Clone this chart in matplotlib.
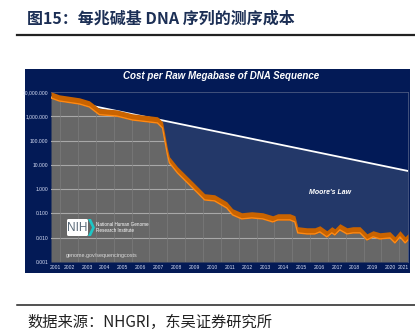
import numpy as np
import matplotlib
matplotlib.use("Agg")
from matplotlib import pyplot as plt
from matplotlib.patches import Rectangle, FancyBboxPatch, Polygon

# cost per raw megabase (USD), read from the lower edge of the orange band
years = [2001.48, 2001.94, 2003.07, 2003.63, 2004.19, 2005.15, 2006.04, 2007.00,
         2007.45, 2007.73, 2008.01, 2008.12, 2008.57, 2009.42, 2010.09, 2010.65,
         2011.33, 2011.66, 2012.17, 2012.73, 2013.35, 2013.91, 2014.19, 2014.87,
         2015.15, 2015.31, 2015.82, 2016.27, 2016.55, 2016.94, 2017.22, 2017.39,
         2017.67, 2018.07, 2018.40, 2018.80, 2019.19, 2019.53, 2019.92, 2020.48,
         2020.76, 2021.04, 2021.33, 2021.49]
cost = [5660, 4260, 3210, 2415, 1165, 1028, 705, 582,
        530, 330, 25.5, 12.0, 4.64, 1.12, 0.36, 0.327,
        0.168, 0.0867, 0.0594, 0.0653, 0.0594, 0.0446, 0.054, 0.054,
        0.0446, 0.0158, 0.0143, 0.0143, 0.0173, 0.0108, 0.0158, 0.0130,
        0.0210, 0.0143, 0.0158, 0.0158, 0.0081, 0.0108, 0.0089, 0.0098,
        0.0061, 0.0108, 0.0061, 0.0081]
moore_years = [2001.48, 2021.49]
moore_cost = [6000, 5.6]

ytick_vals = [10000, 1000, 100, 10, 1, 0.1, 0.01, 0.001]
ytick_labels = ["10,000.000", "1,000.000", "100.000", "10.000", "1.000",
                "0.100", "0.010", "0.001"]
year_labels = list(range(2001, 2022))

years = np.array(years)
cost = np.array(cost)

plt.rcParams["font.family"] = ["Liberation Sans", "DejaVu Sans"]
cjk = ["Noto Sans CJK SC", "DejaVu Sans"]

fig = plt.figure(figsize=(4.15, 3.34), dpi=100)
fig.patch.set_facecolor("white")

# heading and footer
fig.text(27 / 415, 1 - 19 / 334, "图15：每兆碱基 DNA 序列的测序成本", family=cjk,
         fontsize=11.5, fontweight="bold", color="#1c2f55", va="center", ha="left")
fig.add_artist(plt.Line2D([17 / 415, 1], [1 - 35 / 334] * 2, color="#222222", lw=1.6))
fig.add_artist(plt.Line2D([17 / 415, 1], [1 - 305 / 334] * 2, color="#222222", lw=1.1))
fig.text(27 / 415, 1 - 322 / 334, "数据来源：NHGRI，东吴证券研究所", family=cjk,
         fontsize=11, color="#222222", va="center", ha="left")

# navy panel
fig.add_artist(Rectangle((25 / 415, 1 - 273 / 334), 385 / 415, 204 / 334,
                         transform=fig.transFigure, facecolor="#031a56",
                         edgecolor="none", zorder=0))
fig.text(221 / 415, 1 - 76 / 334, "Cost per Raw Megabase of DNA Sequence",
         fontsize=7, fontweight="bold", fontstyle="italic", color="white",
         ha="center", va="center")

ax = fig.add_axes([51 / 415, 1 - 262 / 334, 357 / 415, 170 / 334])
ax.set_facecolor("#021a57")
ax.set_yscale("log")
ax.set_xlim(years[0], years[-1])
ax.set_ylim(0.001, 10000)

xs = np.linspace(years[0], years[-1], 400)
moore = 10 ** np.interp(xs, moore_years, np.log10(moore_cost))
data_i = 10 ** np.interp(xs, years, np.log10(cost))

ax.fill_between(xs, np.minimum(data_i, moore), moore, where=moore >= data_i,
                color="#233869", lw=0, zorder=1)
gray = ax.fill_between(years, 0.001, cost, color="#676767", lw=0, zorder=1)

for v in ytick_vals[1:-1]:
    ln = ax.axhline(v, color="#a8a8a8", lw=0.8, zorder=1.5)
    ln.set_clip_path(gray.get_paths()[0], gray.get_transform())
for yr in range(2002, 2022):
    ln = ax.axvline(yr, color="#7c7c7c", lw=0.5, zorder=1.5)
    ln.set_clip_path(gray.get_paths()[0], gray.get_transform())

ax.plot(moore_years, moore_cost, color="white", lw=1.3, zorder=2.5)
ax.text(330, 141, "Moore's Law", transform=None, fontsize=5,
        fontweight="bold", fontstyle="italic", color="white",
        ha="center", va="center")

ax.fill_between(years, cost, cost * 1.8, color="#c96300", lw=0, zorder=3)
ax.plot(years, cost, color="#ff8a14", lw=1.0, zorder=4)

ax.set_yticks(ytick_vals)
ax.set_yticklabels(ytick_labels)
ax.yaxis.set_minor_locator(matplotlib.ticker.NullLocator())
xt = [(years[0] + 2002) / 2] + [y + 0.5 for y in year_labels[1:-1]] + [(2021 + years[-1]) / 2]
ax.set_xticks(xt)
ax.set_xticklabels([str(y) for y in year_labels])
ax.tick_params(length=0, labelsize=3.6, colors="#d8dff5", pad=2)
for s in ax.spines.values():
    s.set_color("#4b5a82")
    s.set_linewidth(0.6)
ax.spines["left"].set_visible(False)
ax.spines["bottom"].set_visible(False)

# NIH logo and url, drawn in pixel coordinates
fig.add_artist(FancyBboxPatch((67, 334 - 236), 21, 17, boxstyle="round,pad=0,rounding_size=1.5",
                              transform=None, facecolor="white", edgecolor="none", zorder=5))
fig.add_artist(Polygon([(88, 334 - 219), (91, 334 - 219), (95, 334 - 227.5),
                        (91, 334 - 236), (88, 334 - 236), (92, 334 - 227.5)],
                       closed=True, transform=None, facecolor="#1ec6c6",
                       edgecolor="none", zorder=5))
fig.text(77.5, 334 - 228, "NIH", transform=None, fontsize=8.5, color="#5a6a78",
         ha="center", va="center", zorder=6)
fig.text(96, 334 - 227.5, "National Human Genome\nResearch Institute", transform=None,
         fontsize=3.3, color="white", ha="left", va="center", linespacing=1.5, zorder=6)
fig.text(66, 334 - 255, "genome.gov/sequencingcosts", transform=None,
         fontsize=3.9, color="#dddddd", ha="left", va="center", zorder=6)

fig.savefig("out.png", dpi=100)
